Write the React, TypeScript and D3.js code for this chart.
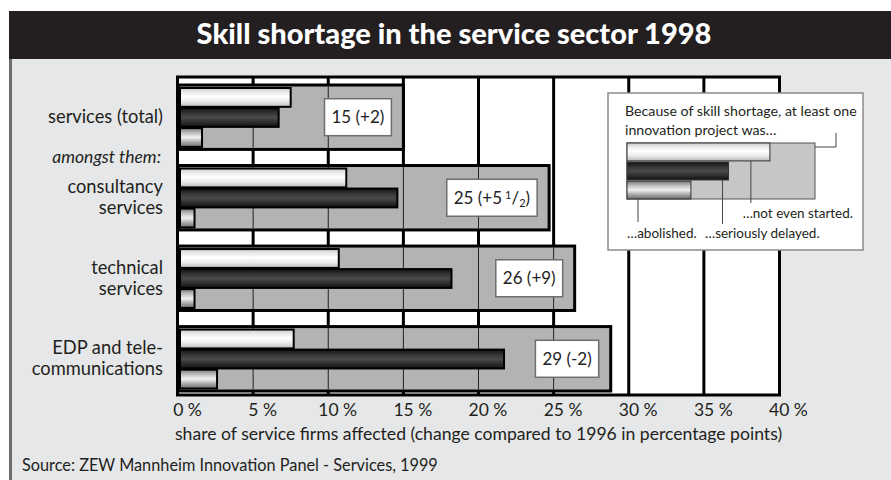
import * as d3 from "d3"
import { useEffect, useRef } from "react"

const W = 891
const H = 480
const FONT = "Lato, 'Open Sans', sans-serif"

const categories = ["services (total)", "consultancy services", "technical services", "EDP and telecommunications"]
const categoryLines = [["services (total)"], ["consultancy", "services"], ["technical", "services"], ["EDP and tele-", "communications"]]
// share of firms affected (gray box length)
const totalShare = [15, 24.7, 26.4, 28.8]
const totalLabels = ["15 (+2)", "25 (+5 ½)", "26 (+9)", "29 (-2)"]
const notStarted = [7.5, 11.2, 10.7, 7.7]
const delayed = [6.7, 14.6, 18.2, 21.7]
const abolished = [1.6, 1.1, 1.1, 2.6]
const xTicks = [0, 5, 10, 15, 20, 25, 30, 35, 40]

const legendShares = [0.76, 0.54, 0.34]
const legendNotes = ["…not even started.", "…seriously delayed.", "…abolished."]

const margin = { left: 178, right: 112, top: 77, bottom: 86 }

export default function App() {
  const svgRef = useRef<SVGSVGElement | null>(null)

  useEffect(() => {
    if (!svgRef.current) return
    const svg = d3.select(svgRef.current)
    svg.selectAll("*").remove()

    const defs = svg.append("defs")
    const grad = (id: string, stops: [number, string][]) => {
      const g = defs.append("linearGradient").attr("id", id).attr("x1", 0).attr("x2", 0).attr("y1", 0).attr("y2", 1)
      stops.forEach(([o, c]) => g.append("stop").attr("offset", o).attr("stop-color", c))
    }
    grad("gWhite", [[0, "#c8c8c8"], [0.2, "#e8e8e8"], [0.45, "#ffffff"], [0.7, "#ececec"], [0.85, "#d4d4d4"], [1, "#b8b8b8"]])
    grad("gDark", [[0, "#111"], [0.25, "#333"], [0.5, "#4a4a4a"], [0.75, "#2e2e2e"], [1, "#111"]])
    grad("gMid", [[0, "#777"], [0.25, "#bdbdbd"], [0.5, "#f2f2f2"], [0.75, "#a8a8a8"], [1, "#6a6a6a"]])
    const fills = ["url(#gWhite)", "url(#gDark)", "url(#gMid)"]

    // panel + title
    svg.append("rect").attr("x", 9).attr("y", 59).attr("width", W - 9).attr("height", H - 59).attr("fill", "#e6e7e8")
    svg.append("line").attr("x1", 10.5).attr("x2", 10.5).attr("y1", 59).attr("y2", H).attr("stroke", "#6d6e70").attr("stroke-width", 3)
    svg.append("rect").attr("x", 9).attr("y", 11).attr("width", W - 9).attr("height", 48).attr("fill", "#231f20")
    svg
      .append("text")
      .attr("x", 454)
      .attr("y", 44)
      .attr("text-anchor", "middle")
      .attr("fill", "#fff")
      .style("font-family", FONT)
      .style("font-weight", "900")
      .style("font-size", "29px")
      .text("Skill shortage in the service sector 1998")

    const x = d3.scaleLinear().domain([0, 40]).range([margin.left, W - margin.right])
    const y = d3.scaleBand().domain(categories).range([85, 391]).paddingInner(0.2)
    const inner = d3.scaleBand<number>().domain([0, 1, 2]).range([3, y.bandwidth() - 2.5]).paddingInner(0.06)
    const plotTop = margin.top
    const plotBottom = H - margin.bottom + 1

    svg.append("rect").attr("x", x(0)).attr("y", plotTop).attr("width", x(40) - x(0)).attr("height", plotBottom - plotTop).attr("fill", "#fff")

    // thick gridlines
    svg
      .append("g")
      .selectAll("line")
      .data(xTicks.slice(1, -1))
      .join("line")
      .attr("x1", (d) => x(d))
      .attr("x2", (d) => x(d))
      .attr("y1", plotTop)
      .attr("y2", plotBottom)
      .attr("stroke", "#000")
      .attr("stroke-width", 3)

    const groups = svg
      .append("g")
      .selectAll("g")
      .data(categories)
      .join("g")
      .attr("transform", (d) => `translate(0,${y(d)})`)

    groups
      .append("rect")
      .attr("x", x(0))
      .attr("y", 0)
      .attr("width", (d, i) => x(totalShare[i]) - x(0))
      .attr("height", y.bandwidth())
      .attr("fill", "#b3b3b3")
      .attr("stroke", "#000")
      .attr("stroke-width", 3)

    // thin gridlines inside the gray boxes
    groups.each(function (d, i) {
      d3.select(this)
        .selectAll("line.thin")
        .data(xTicks.filter((t) => t > 0 && t < totalShare[i]))
        .join("line")
        .attr("class", "thin")
        .attr("x1", (t) => x(t))
        .attr("x2", (t) => x(t))
        .attr("y1", 1.5)
        .attr("y2", y.bandwidth() - 1.5)
        .attr("stroke", "#222")
        .attr("stroke-width", 1)
    })

    const series = [notStarted, delayed, abolished]
    groups.each(function (d, i) {
      d3.select(this)
        .selectAll("rect.bar")
        .data(series.map((s) => s[i]))
        .join("rect")
        .attr("class", "bar")
        .attr("x", x(0) + 2)
        .attr("y", (v, k) => inner(k)!)
        .attr("width", (v) => x(v) - x(0) - 2)
        .attr("height", inner.bandwidth())
        .attr("fill", (v, k) => fills[k])
        .attr("stroke", "#000")
        .attr("stroke-width", 2)
    })

    // value labels
    groups.each(function (d, i) {
      const g = d3.select(this)
      const t = g
        .append("text")
        .attr("text-anchor", "end")
        .attr("x", x(totalShare[i]) - 19)
        .attr("y", y.bandwidth() / 2 + 6)
        .style("font-family", FONT)
        .style("font-size", "17px")
        .attr("fill", "#222")
      if (totalLabels[i].includes("½")) {
        const [a] = totalLabels[i].split("½")
        t.append("tspan").text(a.trimEnd())
        t.append("tspan").attr("dx", 3).attr("dy", -5).style("font-size", "11px").text("1")
        t.append("tspan").attr("dy", 5).text("/")
        t.append("tspan").attr("dy", 3).style("font-size", "11px").text("2")
        t.append("tspan").attr("dy", -3).text(")")
      } else {
        t.text(totalLabels[i])
      }
      const bb = (t.node() as SVGTextElement).getBBox()
      g.insert("rect", "text")
        .attr("x", bb.x - 7)
        .attr("y", y.bandwidth() / 2 - 18.5)
        .attr("width", bb.width + 14)
        .attr("height", 37)
        .attr("fill", "#fff")
        .attr("stroke", "#6d6e70")
        .attr("stroke-width", 1.5)
    })

    // plot frame
    svg
      .append("rect")
      .attr("x", x(0) - 0.5)
      .attr("y", plotTop)
      .attr("width", x(40) - x(0) + 1)
      .attr("height", plotBottom - plotTop)
      .attr("fill", "none")
      .attr("stroke", "#000")
      .attr("stroke-width", 3)

    // category labels
    svg
      .append("g")
      .selectAll("text")
      .data(categories)
      .join("text")
      .attr("text-anchor", "end")
      .attr("x", 163)
      .attr("y", (d) => y(d)! + y.bandwidth() / 2)
      .style("font-family", FONT)
      .style("font-size", "18.3px")
      .attr("fill", "#231f20")
      .each(function (d, i) {
        const lines = categoryLines[i]
        d3.select(this)
          .selectAll("tspan")
          .data(lines)
          .join("tspan")
          .attr("x", 163)
          .attr("dy", (l, k) => (k === 0 ? 6 - (lines.length - 1) * 10.5 : 21))
          .text((l) => l)
      })

    svg
      .append("text")
      .attr("text-anchor", "end")
      .attr("x", 161)
      .attr("y", (y(categories[0])! + y.bandwidth() + y(categories[1])!) / 2 + 6)
      .style("font-family", FONT)
      .style("font-size", "17.5px")
      .style("font-style", "italic")
      .attr("fill", "#231f20")
      .text("amongst them:")

    // x axis
    const axis = svg
      .append("g")
      .attr("transform", `translate(0,${plotBottom})`)
      .call(
        d3
          .axisBottom(x)
          .tickValues(xTicks)
          .tickSize(0)
          .tickFormat((d) => `${d} %`),
      )
    axis.select(".domain").remove()
    axis
      .selectAll("text")
      .attr("dx", 9)
      .attr("dy", 0)
      .attr("y", 21)
      .style("font-family", FONT)
      .style("font-size", "17.5px")
      .attr("fill", "#231f20")

    svg
      .append("text")
      .attr("x", 175)
      .attr("y", 440)
      .style("font-family", FONT)
      .style("font-size", "17.6px")
      .attr("fill", "#231f20")
      .text("share of service firms affected (change compared to 1996 in percentage points)")

    svg
      .append("text")
      .attr("x", 22)
      .attr("y", 471)
      .style("font-family", FONT)
      .style("font-size", "16.3px")
      .attr("fill", "#231f20")
      .text("Source: ZEW Mannheim Innovation Panel - Services, 1999")

    // legend
    const lg = svg.append("g")
    lg.append("rect").attr("x", 608).attr("y", 93).attr("width", 255).attr("height", 157).attr("fill", "#fff").attr("stroke", "#8a8a8a").attr("stroke-width", 1.5)
    lg.append("text")
      .attr("x", 625)
      .attr("y", 116)
      .style("font-family", FONT)
      .style("font-size", "14.2px")
      .attr("fill", "#231f20")
      .selectAll("tspan")
      .data(["Because of skill shortage, at least one", "innovation project was…"])
      .join("tspan")
      .attr("x", 625)
      .attr("dy", (d, k) => (k === 0 ? 0 : 19))
      .text((d) => d)

    const lx = d3.scaleLinear().domain([0, 1]).range([627, 815])
    const ly = d3.scaleBand<number>().domain([0, 1, 2]).range([143, 199]).paddingInner(0.06)
    lg.append("rect").attr("x", lx(0)).attr("y", 143).attr("width", lx(1) - lx(0)).attr("height", 56).attr("fill", "#c6c6c6").attr("stroke", "#555").attr("stroke-width", 1)
    lg.selectAll("rect.lbar")
      .data(legendShares)
      .join("rect")
      .attr("class", "lbar")
      .attr("x", lx(0))
      .attr("y", (d, k) => ly(k)!)
      .attr("width", (d) => lx(d) - lx(0))
      .attr("height", ly.bandwidth())
      .attr("fill", (d, k) => fills[k])
      .attr("stroke", "#333")
      .attr("stroke-width", 1)

    const leader = "#444"
    // total leader
    lg.append("path").attr("d", `M${lx(1)},147 H836 V133`).attr("fill", "none").attr("stroke", leader).attr("stroke-width", 1)
    const noteX = [lx(legendShares[0]) - 19, lx(legendShares[1]) - 6, 638]
    const noteEnd = [203, 224, 222]
    lg.selectAll("line.note")
      .data(legendShares)
      .join("line")
      .attr("class", "note")
      .attr("x1", (d, k) => noteX[k])
      .attr("x2", (d, k) => noteX[k])
      .attr("y1", (d, k) => ly(k)! + ly.bandwidth())
      .attr("y2", (d, k) => noteEnd[k])
      .attr("stroke", leader)
      .attr("stroke-width", 1)
    const noteTextX = [853, 705, 627]
    const noteTextY = [218, 238, 238]
    lg.selectAll("text.note")
      .data(legendNotes)
      .join("text")
      .attr("class", "note")
      .attr("x", (d, k) => noteTextX[k])
      .attr("y", (d, k) => noteTextY[k])
      .attr("text-anchor", (d, k) => (k === 0 ? "end" : "start"))
      .style("font-family", FONT)
      .style("font-size", "13.5px")
      .attr("fill", "#231f20")
      .text((d) => d)
  }, [])

  return (
    <svg
      ref={svgRef}
      width={W}
      height={H}
      style={{ position: "absolute", left: 0, top: 0, background: "#fff" }}
      xmlns="http://www.w3.org/2000/svg"
    />
  )
}
